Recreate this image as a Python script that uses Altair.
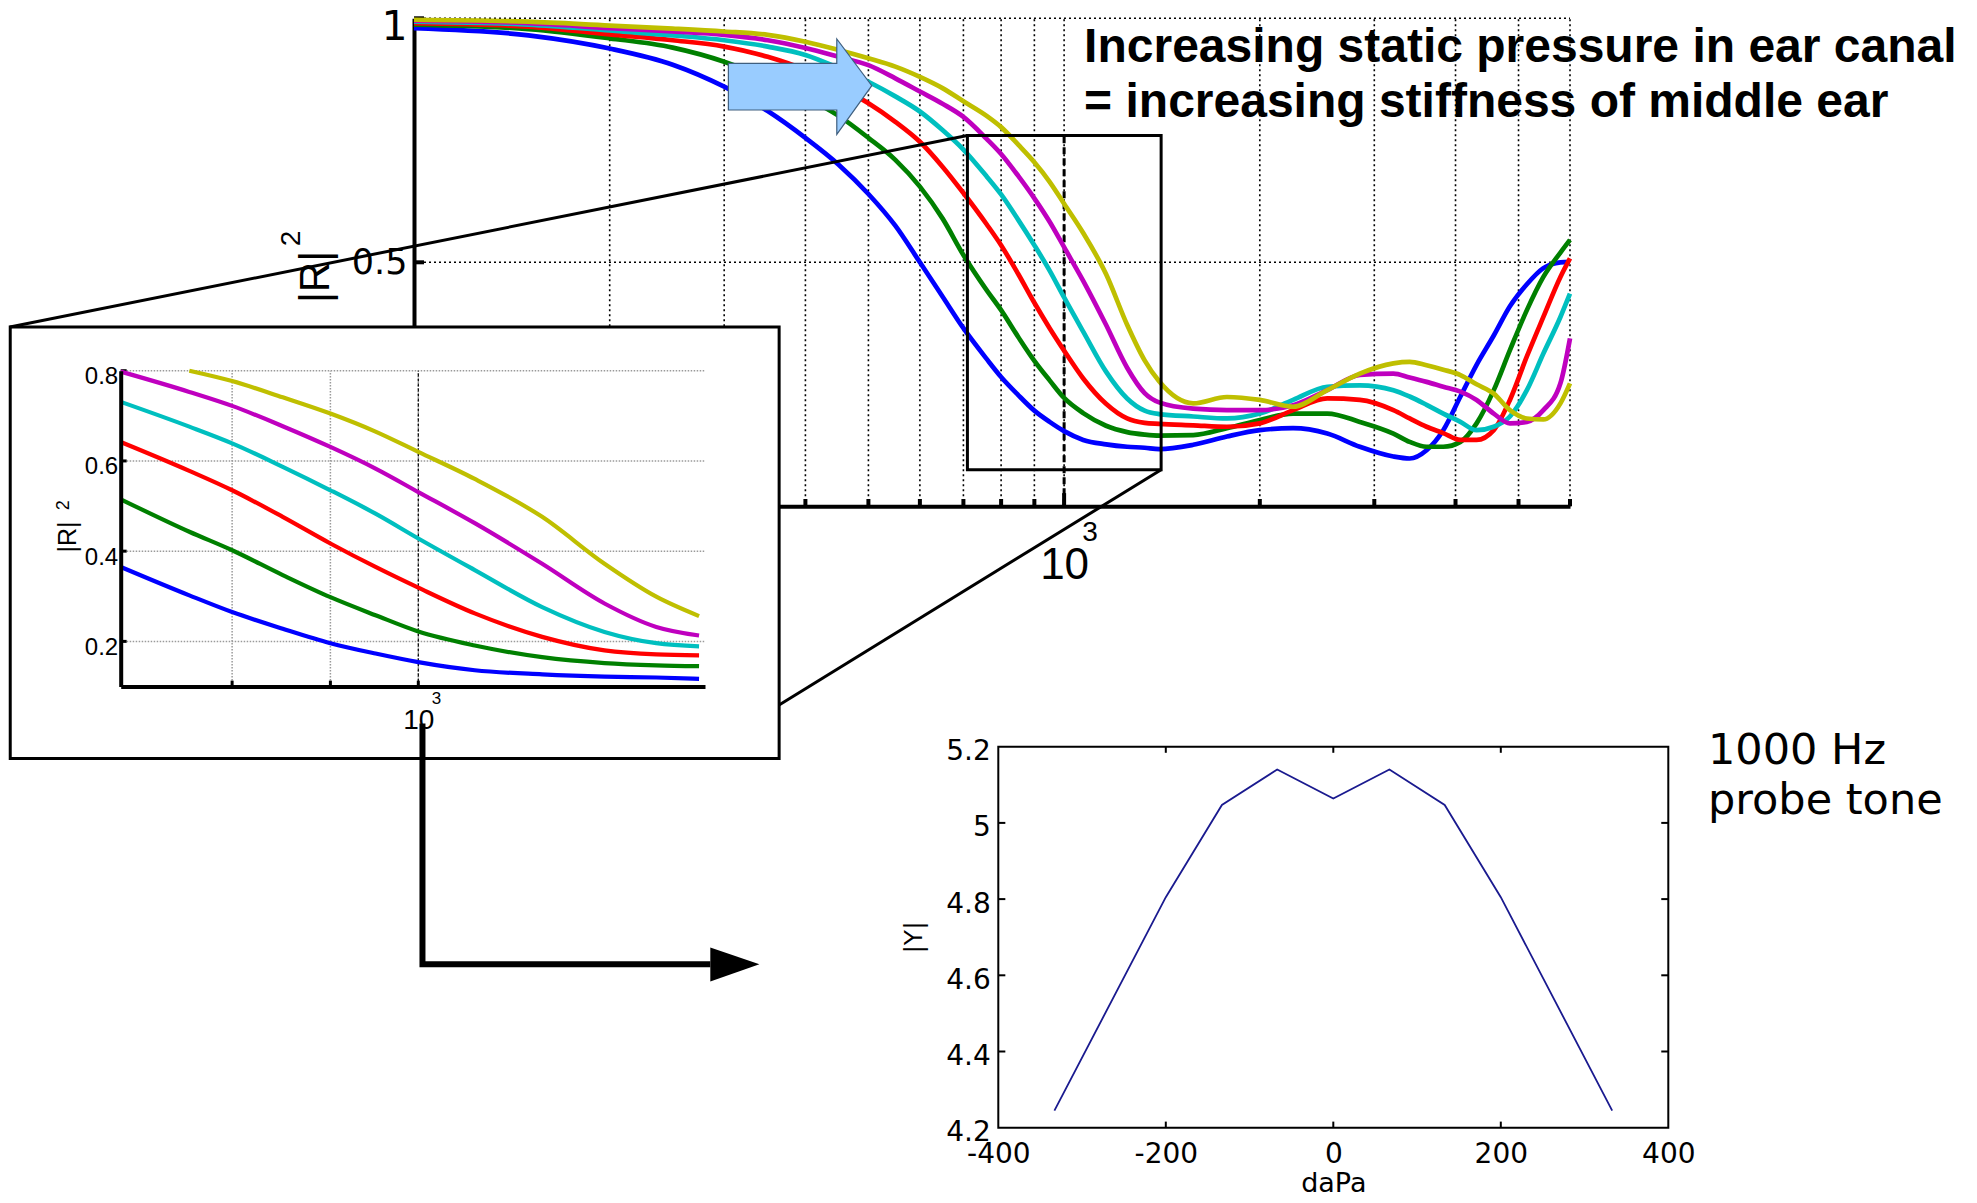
import altair as alt
import pandas as pd

# ---------------- data ----------------
FREQ = [100, 150, 200, 250, 300, 350, 400, 450, 500, 550, 600, 650, 700, 760, 800, 850, 900, 950,
        1000, 1070, 1160, 1250, 1330, 1400, 1580, 1780, 2000, 2250, 2540, 2850, 3210, 3400, 3610,
        3830, 4070, 4310, 4580, 4850, 5150, 5460, 5800, 6000]

BLUE = [0.980, 0.965, 0.938, 0.905, 0.860, 0.810, 0.755, 0.700, 0.640, 0.575, 0.500, 0.430, 0.365,
        0.302, 0.265, 0.228, 0.196, 0.173, 0.154, 0.136, 0.127, 0.122, 0.120, 0.117, 0.126, 0.143,
        0.156, 0.160, 0.149, 0.122, 0.102, 0.098, 0.115, 0.156, 0.225, 0.290, 0.350, 0.410, 0.455,
        0.488, 0.500, 0.501]
GREEN = [0.987, 0.978, 0.959, 0.940, 0.911, 0.875, 0.838, 0.800, 0.755, 0.710, 0.655, 0.590, 0.515,
         0.443, 0.402, 0.347, 0.298, 0.258, 0.222, 0.191, 0.165, 0.152, 0.147, 0.145, 0.146, 0.160,
         0.177, 0.190, 0.190, 0.173, 0.149, 0.132, 0.122, 0.122, 0.132, 0.170, 0.238, 0.320, 0.402,
         0.470, 0.520, 0.546]
RED = [0.990, 0.983, 0.967, 0.955, 0.942, 0.921, 0.894, 0.860, 0.826, 0.788, 0.747, 0.696, 0.642,
       0.578, 0.535, 0.476, 0.417, 0.365, 0.319, 0.262, 0.210, 0.180, 0.171, 0.169, 0.166, 0.163,
       0.170, 0.197, 0.221, 0.218, 0.197, 0.180, 0.163, 0.150, 0.136, 0.136, 0.156, 0.218, 0.307,
       0.388, 0.470, 0.508]
CYAN = [0.993, 0.987, 0.975, 0.965, 0.955, 0.942, 0.925, 0.898, 0.870, 0.840, 0.809, 0.771, 0.731,
        0.676, 0.639, 0.587, 0.535, 0.483, 0.428, 0.358, 0.276, 0.221, 0.196, 0.189, 0.184, 0.180,
        0.190, 0.218, 0.245, 0.248, 0.238, 0.225, 0.208, 0.190, 0.173, 0.156, 0.163, 0.184, 0.238,
        0.313, 0.388, 0.436]
MAGENTA = [0.995, 0.990, 0.980, 0.973, 0.966, 0.955, 0.939, 0.921, 0.904, 0.877, 0.850, 0.825, 0.798,
           0.753, 0.722, 0.677, 0.631, 0.583, 0.531, 0.462, 0.372, 0.284, 0.232, 0.213, 0.200, 0.197,
           0.197, 0.207, 0.238, 0.269, 0.272, 0.264, 0.255, 0.245, 0.235, 0.218, 0.190, 0.170, 0.173,
           0.197, 0.252, 0.344]
YELLOW = [0.997, 0.993, 0.985, 0.979, 0.973, 0.966, 0.952, 0.935, 0.918, 0.901, 0.880, 0.857, 0.830,
          0.800, 0.777, 0.741, 0.705, 0.665, 0.620, 0.560, 0.476, 0.372, 0.299, 0.256, 0.211, 0.224,
          0.218, 0.204, 0.238, 0.272, 0.293, 0.296, 0.289, 0.280, 0.269, 0.250, 0.231, 0.197, 0.180,
          0.178, 0.211, 0.252]

SERIES = ["p1", "p2", "p3", "p4", "p5", "p6"]
COLORS = ["#0000FF", "#008000", "#FF0000", "#00BFBF", "#BF00BF", "#BFBF00"]

DAPA = [-333, -200, -133, -67, 0, 67, 133, 200, 333]
ADMIT = [4.245, 4.805, 5.047, 5.140, 5.064, 5.140, 5.047, 4.805, 4.245]

MAIN_GRID_F = [200, 300, 400, 500, 600, 700, 800, 900, 1000, 2000, 3000, 4000, 5000, 6000]
MAIN_SMALL_TICKS = [200, 300, 400, 500, 600, 700, 800, 900, 2000, 3000, 4000, 5000, 6000]
MAIN_GRID_V = [0.5, 1.0]
INSET_GRID_F = [800, 900, 1000]
INSET_GRID_V = [0.2, 0.4, 0.6, 0.8]
B_TICKS_X = [-200, 0, 200]
B_TICKS_Y = [4.4, 4.6, 4.8, 5.0]
B_LABELS_X = [-400, -200, 0, 200, 400]
B_LABELS_Y = [4.2, 4.4, 4.6, 4.8, 5.0, 5.2]

ANNOT_LINES = ["Increasing static pressure in ear canal", "= increasing stiffness of middle ear"]
PROBE_LINES = ["1000 Hz", "probe tone"]

curves = pd.DataFrame(
    [{"f": f, "v": v, "s": s}
     for s, vals in zip(SERIES, [BLUE, GREEN, RED, CYAN, MAGENTA, YELLOW])
     for f, v in zip(FREQ, vals)]
)
tymp = pd.DataFrame({"p": DAPA, "y": ADMIT})

# ---------------- layout (scales) ----------------
W, H = 1961, 1187
MX = dict(type="log", domain=[100, 6000], range=[406, 1562], nice=False)
MY = dict(type="linear", domain=[0, 1], range=[498.3, 10.3], nice=False, zero=False)
IX = dict(type="log", domain=[700, 1410], range=[112.7, 697], nice=False)
IY = dict(type="linear", domain=[0.1, 0.8], range=[678.5, 362.7], nice=False, zero=False)
BX = dict(type="linear", domain=[-400, 400], range=[990.3, 1660.3], nice=False, zero=False)
BY = dict(type="linear", domain=[4.2, 5.2], range=[1119.7, 738.7], nice=False, zero=False)


def sc(d):
    return alt.Scale(**d)


def xf(field, s, axis=None):
    return alt.X(f"{field}:Q", scale=sc(s), axis=axis)


def yf(field, s, axis=None):
    return alt.Y(f"{field}:Q", scale=sc(s), axis=axis)


def xd(val, s):
    return alt.XDatum(val, type="quantitative", scale=sc(s), axis=None)


def yd(val, s):
    return alt.YDatum(val, type="quantitative", scale=sc(s), axis=None)


DOT = [2, 3]
layers = []

# ---- main plot: grid ----
layers.append(alt.Chart(pd.DataFrame({"f": MAIN_GRID_F})).mark_rule(
    color="black", strokeWidth=1.6, strokeDash=DOT).encode(
    x=xf("f", MX), y=yd(0, MY), y2=alt.Y2Datum(1)))
layers.append(alt.Chart(pd.DataFrame({"v": MAIN_GRID_V})).mark_rule(
    color="black", strokeWidth=1.6, strokeDash=DOT).encode(
    y=yf("v", MY), x=xd(100, MX), x2=alt.X2Datum(6000)))
layers.append(alt.Chart(pd.DataFrame({"f": [1000]})).mark_rule(
    color="black", strokeWidth=3, strokeDash=[7, 4]).encode(
    x=xf("f", MX), y=yd(0, MY), y2=alt.Y2Datum(0.76)))
# ticks
layers.append(alt.Chart(pd.DataFrame({"f": MAIN_SMALL_TICKS})).mark_rule(
    color="black", strokeWidth=4).encode(
    x=xf("f", MX), y=yd(0, MY), y2=alt.Y2Datum(0.015)))
layers.append(alt.Chart(pd.DataFrame({"f": [1000]})).mark_rule(
    color="black", strokeWidth=4).encode(
    x=xf("f", MX), y=yd(0, MY), y2=alt.Y2Datum(0.027)))
layers.append(alt.Chart(pd.DataFrame({"v": MAIN_GRID_V})).mark_rule(
    color="black", strokeWidth=4).encode(
    y=yf("v", MY), x=xd(100, MX), x2=alt.X2Datum(103.6)))

color_enc = alt.Color("s:N", scale=alt.Scale(domain=SERIES, range=COLORS), legend=None)

main_x_axis = alt.Axis(orient="bottom", offset=498.3 - H, values=[1000], labelExpr="'10'",
                       ticks=False, grid=False, domain=True, domainColor="black", domainWidth=4,
                       labelFont="Liberation Sans", labelFontSize=44, labelColor="black",
                       labelPadding=37, labelFlush=False, labelOverlap=False, title=None)
main_y_axis = alt.Axis(orient="left", offset=-406, values=[0.5, 1.0],
                       labelExpr="datum.value == 1 ? '1' : '0.5'",
                       ticks=False, grid=False, domain=True, domainColor="black", domainWidth=4,
                       labelFont="DejaVu Sans",
                       labelFontSize={"condition": {"test": "datum.value == 1", "value": 41}, "value": 35},
                       labelOffset={"condition": {"test": "datum.value == 1", "value": 9}, "value": 0},
                       labelColor="black", labelPadding=7, labelBaseline="middle",
                       labelFlush=False, labelOverlap=False,
                       title="|R|", titleX=-99, titleY=268.5, titleFont="Liberation Sans",
                       titleFontSize=42, titleFontWeight="normal", titleColor="black",
                       titleAngle=270, titleAlign="center", titleBaseline="middle")

layers.append(alt.Chart(curves).mark_line(strokeWidth=4.7, interpolate="monotone").encode(
    x=xf("f", MX, main_x_axis), y=yf("v", MY, main_y_axis), color=color_enc))

# zoom box in the main plot
layers.append(alt.Chart(pd.DataFrame({"f0": [710], "f1": [1410], "v0": [0.075], "v1": [0.76]})).mark_rect(
    fill="white", fillOpacity=0, stroke="black", strokeWidth=3).encode(
    x=xf("f0", MX), x2="f1", y=yf("v0", MY), y2="v1"))

# light-blue block arrow (outline points of the arrow, left to right)
layers.append(alt.Chart(pd.DataFrame({
    "f": [304.5, 447.0, 447.05, 506.0],
    "top": [0.9078, 0.9078, 0.9576, 0.8619],
    "bot": [0.8121, 0.8121, 0.7623, 0.8619]})).mark_area(
    color="#99CCFF", fill="#99CCFF", stroke="#3F5F7F", strokeWidth=1.2, opacity=1,
    interpolate="linear").encode(
    x=xf("f", MX), y=yf("top", MY), y2="bot"))

# ---- inset ----
layers.append(alt.Chart(pd.DataFrame({"f0": [613.2], "f1": [1541], "v0": [-0.0597], "v1": [0.897]})).mark_rect(
    fill="white", stroke="black", strokeWidth=3).encode(
    x=xf("f0", IX), x2="f1", y=yf("v0", IY), y2="v1"))
layers.append(alt.Chart(pd.DataFrame({"f": INSET_GRID_F})).mark_rule(
    color="#9a9a9a", strokeWidth=1.5, strokeDash=[1.5, 1.5]).encode(
    x=xf("f", IX), y=yd(0.1, IY), y2=alt.Y2Datum(0.8)))
layers.append(alt.Chart(pd.DataFrame({"v": INSET_GRID_V})).mark_rule(
    color="#9a9a9a", strokeWidth=1.5, strokeDash=[1.5, 1.5]).encode(
    y=yf("v", IY), x=xd(700, IX), x2=alt.X2Datum(1410)))
layers.append(alt.Chart(pd.DataFrame({"f": [1000]})).mark_rule(
    color="black", strokeWidth=1.2, strokeDash=[3, 2]).encode(
    x=xf("f", IX), y=yd(0.1, IY), y2=alt.Y2Datum(0.8)))
layers.append(alt.Chart(pd.DataFrame({"f": INSET_GRID_F})).mark_rule(
    color="black", strokeWidth=3).encode(
    x=xf("f", IX), y=yd(0.1, IY), y2=alt.Y2Datum(0.113)))
layers.append(alt.Chart(pd.DataFrame({"v": INSET_GRID_V})).mark_rule(
    color="black", strokeWidth=3).encode(
    y=yf("v", IY), x=xd(700, IX), x2=alt.X2Datum(705)))

inset_x_axis = alt.Axis(orient="bottom", offset=678.5 - H, values=[1000], labelExpr="'10'",
                        ticks=False, grid=False, domain=True, domainColor="black", domainWidth=4,
                        labelFont="Liberation Sans", labelFontSize=28, labelColor="black",
                        labelPadding=20, labelFlush=False, title=None, zindex=1)
inset_y_axis = alt.Axis(orient="left", offset=-112.7, values=INSET_GRID_V, format=".1f",
                        ticks=False, grid=False, domain=True, domainColor="black", domainWidth=4,
                        labelFont="Liberation Sans", labelFontSize=24, labelColor="black",
                        labelPadding=3, labelOffset=6, labelBaseline="middle", labelFlush=False,
                        title="|R|", titleX=-53, titleY=528.5, titleFont="Liberation Sans",
                        titleFontSize=25, titleFontWeight="normal", titleColor="black",
                        titleAngle=270, titleAlign="center", titleBaseline="middle", zindex=1)
layers.append(alt.Chart(curves).transform_filter(
    "datum.f >= 700 && datum.f <= 1410 && datum.v <= 0.8005").mark_line(
    strokeWidth=4.2, interpolate="monotone").encode(
    x=xf("f", IX, inset_x_axis), y=yf("v", IY, inset_y_axis), color=color_enc))

# ---- tympanogram (bottom right) ----
layers.append(alt.Chart(pd.DataFrame({"p0": [-400], "p1": [400], "y0": [4.2], "y1": [5.2]})).mark_rect(
    fill="white", fillOpacity=0, stroke="black", strokeWidth=2).encode(
    x=xf("p0", BX), x2="p1", y=yf("y0", BY), y2="y1"))
layers.append(alt.Chart(pd.DataFrame({"y": B_TICKS_Y})).mark_rule(color="black", strokeWidth=2).encode(
    y=yf("y", BY), x=xd(-400, BX), x2=alt.X2Datum(-391.6)))
layers.append(alt.Chart(pd.DataFrame({"y": B_TICKS_Y})).mark_rule(color="black", strokeWidth=2).encode(
    y=yf("y", BY), x=xd(400, BX), x2=alt.X2Datum(391.6)))
layers.append(alt.Chart(pd.DataFrame({"p": B_TICKS_X})).mark_rule(color="black", strokeWidth=2).encode(
    x=xf("p", BX), y=yd(4.2, BY), y2=alt.Y2Datum(4.216)))
layers.append(alt.Chart(pd.DataFrame({"p": B_TICKS_X})).mark_rule(color="black", strokeWidth=2).encode(
    x=xf("p", BX), y=yd(5.2, BY), y2=alt.Y2Datum(5.184)))

b_x_axis = alt.Axis(orient="bottom", offset=1119.7 - H, values=B_LABELS_X, labelExpr="'' + datum.value",
                    ticks=False, grid=False, domain=False,
                    labelFont="DejaVu Sans", labelFontSize=28, labelColor="black",
                    labelPadding=13, labelFlush=False, labelOverlap=False,
                    title="daPa", titleX=1325.3, titleY=64, titleFont="DejaVu Sans", titleFontSize=27,
                    titleFontWeight="normal", titleColor="black", titleAlign="center",
                    titleBaseline="alphabetic")
b_y_axis = alt.Axis(orient="left", offset=-990.3, values=B_LABELS_Y, labelExpr="'' + datum.value",
                    ticks=False, grid=False, domain=False,
                    labelFont="DejaVu Sans", labelFontSize=28, labelColor="black",
                    labelPadding=8, labelOffset=5, labelBaseline="middle", labelFlush=False,
                    labelOverlap=False,
                    title="|Y|", titleX=-85, titleY=929, titleFont="DejaVu Sans", titleFontSize=25,
                    titleFontWeight="normal", titleColor="black", titleAngle=270,
                    titleAlign="center", titleBaseline="middle")
layers.append(alt.Chart(tymp).mark_line(color="#1a1a8f", strokeWidth=1.8).encode(
    x=xf("p", BX, b_x_axis), y=yf("y", BY, b_y_axis)))

# ---- connectors and arrows ----
layers.append(alt.Chart(pd.DataFrame({
    "fa": [710, 1410], "va": [0.76, 0.075], "fb": [23.9, 364.4], "vb": [0.3674, -0.4072]})).mark_rule(
    color="black", strokeWidth=3).encode(
    x=xf("fa", MX), x2="fb", y=yf("va", MY), y2="vb"))
layers.append(alt.Chart(pd.DataFrame({
    "k": [0, 1, 2], "f": [1005, 1005, 1419], "v": [0.018, -0.5154, -0.5154]})).mark_line(
    color="black", strokeWidth=6, strokeJoin="miter").encode(
    x=xf("f", IX), y=yf("v", IY), order=alt.Order("k:Q")))
layers.append(alt.Chart(pd.DataFrame({
    "f": [1419, 1505], "top": [-0.4786, -0.5159], "bot": [-0.554, -0.5159]})).mark_area(
    color="black", opacity=1).encode(
    x=xf("f", IX), y=yf("top", IY), y2="bot"))

# ---- texts ----
layers.append(alt.Chart(pd.DataFrame({"t": ANNOT_LINES, "v": [0.911, 0.798]})).mark_text(
    font="Liberation Sans", fontSize=48, fontWeight="bold", align="left", baseline="alphabetic",
    color="black").encode(x=xd(1073.4, MX), y=yf("v", MY), text="t:N"))
layers.append(alt.Chart(pd.DataFrame({"t": PROBE_LINES, "v": [5.1546, 5.0234]})).mark_text(
    font="DejaVu Sans", fontSize=43, align="left", baseline="alphabetic",
    color="black").encode(x=xd(447.4, BX), y=yf("v", BY), text="t:N"))
# superscripts
layers.append(alt.Chart(pd.DataFrame({"t": ["3"], "f": [1096.5], "v": [-0.0547]})).mark_text(
    font="Liberation Sans", fontSize=28, align="center", baseline="middle", color="black").encode(
    x=xf("f", MX), y=yf("v", MY), text="t:N"))
layers.append(alt.Chart(pd.DataFrame({"t": ["2"], "f": [65.0], "v": [0.549]})).mark_text(
    font="Liberation Sans", fontSize=28, align="center", baseline="middle", angle=270,
    color="black").encode(x=xf("f", MX), y=yf("v", MY), text="t:N"))
layers.append(alt.Chart(pd.DataFrame({"t": ["3"], "f": [1022.0], "v": [0.072]})).mark_text(
    font="Liberation Sans", fontSize=17, align="center", baseline="middle", color="black").encode(
    x=xf("f", IX), y=yf("v", IY), text="t:N"))
layers.append(alt.Chart(pd.DataFrame({"t": ["2"], "f": [654.0], "v": [0.502]})).mark_text(
    font="Liberation Sans", fontSize=18, align="center", baseline="middle", angle=270,
    color="black").encode(x=xf("f", IX), y=yf("v", IY), text="t:N"))

chart = alt.layer(*layers).resolve_scale(
    x="independent", y="independent"
).properties(
    width=W, height=H, autosize=alt.AutoSizeParams(type="none"), padding=0, background="white"
).configure_view(stroke=None)

chart.save("out.html", embed_options={"renderer": "svg", "actions": False})
